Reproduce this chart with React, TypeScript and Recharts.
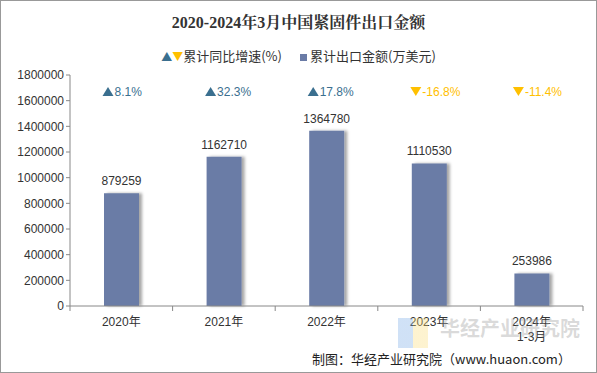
import React from 'react';
import { BarChart, Bar, XAxis, YAxis, LabelList } from 'recharts';

const years = ['2020年', '2021年', '2022年', '2023年', '2024年\n1-3月'];
const exportValues = [879259, 1162710, 1364780, 1110530, 253986];
const growthRates = [8.1, 32.3, 17.8, -16.8, -11.4];
const yTicks = [0, 200000, 400000, 600000, 800000, 1000000, 1200000, 1400000, 1600000, 1800000];

const data = years.map((name, i) => ({
  name,
  value: exportValues[i],
  growth: growthRates[i],
}));

const BAR = '#6a7ba6';
const UP = '#3a6f8f';
const DOWN = '#ffc000';
const FONT = 'Arial, "Liberation Sans", "Noto Sans CJK SC", sans-serif';

const XTick = (props: any) => {
  const { x, y, payload, index } = props;
  const band = 102.6;
  const lines = String(payload.value).split('\n');
  return (
    <g>
      <line x1={x - band / 2} x2={x - band / 2} y1={y - 8} y2={y - 3} stroke="#888" />
      {index === years.length - 1 && (
        <line x1={x + band / 2} x2={x + band / 2} y1={y - 8} y2={y - 3} stroke="#888" />
      )}
      {lines.map((l, i) => (
        <text key={i} x={x} y={y + 12 + i * 15} textAnchor="middle" fontSize={12} fill="#333" fontFamily={FONT}>
          {l}
        </text>
      ))}
    </g>
  );
};

const GrowthLabel = (props: any) => {
  const { x, width, value } = props;
  const up = value >= 0;
  const cx = x + width / 2;
  const color = up ? UP : DOWN;
  return (
    <g>
      {up ? (
        <path d={`M${cx - 19},${96} l5.5,-9 l5.5,9 z`} fill={color} />
      ) : (
        <path d={`M${cx - 19},${87} l11,0 l-5.5,9 z`} fill={color} />
      )}
      <text x={cx - 7} y={96} fontSize={12} fill={color} fontFamily={FONT}>
        {`${value}%`}
      </text>
    </g>
  );
};

export default function App() {
  return (
    <div style={{ position: 'absolute', left: 0, top: 0, width: 597, height: 373, background: '#fff' }}>
      <div
        style={{
          position: 'absolute',
          left: 0,
          top: 0,
          width: 595,
          height: 371,
          border: '1px solid #999',
        }}
      />
      <div
        style={{
          position: 'absolute',
          top: 10,
          width: 597,
          textAlign: 'center',
          fontSize: 16,
          fontWeight: 'bold',
          color: '#333',
          fontFamily: '"Times New Roman", "Liberation Serif", "Noto Serif CJK SC", "Noto Sans CJK SC", serif',
        }}
      >
        2020-2024年3月中国紧固件出口金额
      </div>
      <div
        style={{
          position: 'absolute',
          top: 48,
          width: 597,
          display: 'flex',
          justifyContent: 'center',
          gap: 18,
          fontSize: 13,
          color: '#333',
          fontFamily: '"Noto Sans CJK SC", sans-serif',
          lineHeight: '16px',
        }}
      >
        <span>
          <span style={{ color: UP, fontSize: 11 }}>▲</span>
          <span style={{ color: DOWN, fontSize: 11 }}>▼</span>
          累计同比增速(%)
        </span>
        <span>
          <span style={{ display: 'inline-block', width: 7, height: 7, background: BAR, marginRight: 3, verticalAlign: 'middle' }} />
          累计出口金额(万美元)
        </span>
      </div>
      <BarChart width={597} height={373} data={data} margin={{ top: 75, right: 14, bottom: 37, left: 8 }}>
        <defs>
          <filter id="barShadow" x="-20%" y="-5%" width="160%" height="110%">
            <feDropShadow dx={3} dy={0} stdDeviation={1.5} floodColor="#000" floodOpacity={0.35} />
          </filter>
        </defs>
        <XAxis dataKey="name" height={30} axisLine={{ stroke: '#888' }} tickLine={false} tick={<XTick />} interval={0} />
        <YAxis
          width={62}
          domain={[0, 1800000]}
          ticks={yTicks}
          axisLine={{ stroke: '#888' }}
          tickLine={{ stroke: '#888' }}
          tickSize={4}
          tick={{ fontSize: 12, fill: '#333', fontFamily: FONT }}
          interval={0}
        />
        <Bar dataKey="value" fill={BAR} barSize={35} isAnimationActive={false} filter="url(#barShadow)">
          <LabelList dataKey="value" position="top" offset={8} style={{ fontSize: 12, fill: '#333', fontFamily: FONT }} />
          <LabelList dataKey="growth" content={<GrowthLabel />} />
        </Bar>
      </BarChart>
      <div
        style={{
          position: 'absolute',
          left: 398,
          top: 318,
          width: 30,
          height: 30,
          background: 'linear-gradient(90deg, rgba(120,170,230,0.35) 50%, rgba(250,220,120,0.35) 50%)',
          pointerEvents: 'none',
        }}
      />
      <div
        style={{
          position: 'absolute',
          left: 440,
          top: 313,
          fontSize: 20,
          fontWeight: 'bold',
          whiteSpace: 'nowrap',
          color: 'rgba(150,150,150,0.35)',
          fontFamily: '"Noto Sans CJK SC", sans-serif',
          pointerEvents: 'none',
        }}
      >
        华经产业研究院
      </div>
      <div
        style={{
          position: 'absolute',
          left: 312,
          top: 349,
          fontSize: 13,
          whiteSpace: 'nowrap',
          color: '#222',
          fontFamily: '"Noto Sans CJK SC", sans-serif',
        }}
      >
        制图：华经产业研究院（www.huaon.com）
      </div>
    </div>
  );
}
